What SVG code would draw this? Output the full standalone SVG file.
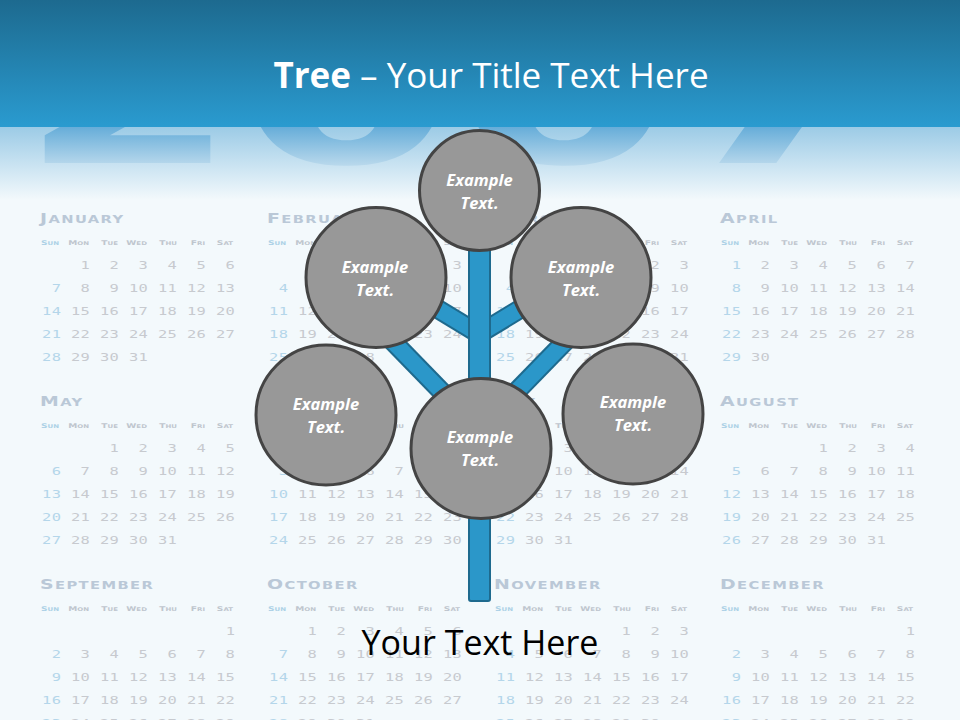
<svg xmlns="http://www.w3.org/2000/svg" xmlns:xlink="http://www.w3.org/1999/xlink" width="960" height="720" viewBox="0 0 960 720">
<style>
.t{font-family:"DejaVu Sans",sans-serif;font-weight:bold;font-size:10.5px;fill:#bac8d7;letter-spacing:1px}
.tb{font-size:13.5px}
.h{font-family:"DejaVu Sans",sans-serif;font-weight:bold;font-size:5px;fill:#bfc6ce;text-anchor:end}
.hb{font-size:6.5px}
.hs{fill:#acd1e6}
.n{font-family:"DejaVu Sans Mono",monospace;font-size:11px;fill:#c7cacf;letter-spacing:0.285px;white-space:pre}
.s{fill:#b4d6ea}
.ex{font-family:"Open Sans","Liberation Sans",sans-serif;font-weight:bold;font-style:italic;font-size:16.5px;fill:#ffffff;text-anchor:middle}
.node circle{fill:#989898;stroke:#444444;stroke-width:3}
.brO{stroke:#1e6a8e;stroke-width:20;fill:none}
.brI{stroke:#2b97c9;stroke-width:16;fill:none}
</style>
<defs>
<linearGradient id="band" x1="0" y1="0" x2="0" y2="127" gradientUnits="userSpaceOnUse">
<stop offset="0" stop-color="#1d6a8f"/><stop offset="1" stop-color="#2a9bd0"/>
</linearGradient>
<linearGradient id="fade" x1="0" y1="127" x2="0" y2="200" gradientUnits="userSpaceOnUse">
<stop offset="0" stop-color="#9ccbe6"/><stop offset="1" stop-color="#f3f9fc"/>
</linearGradient>
<linearGradient id="digits" x1="0" y1="127" x2="0" y2="165" gradientUnits="userSpaceOnUse">
<stop offset="0" stop-color="#66add9"/><stop offset="1" stop-color="#b8d8ec"/>
</linearGradient>
<clipPath id="fadeclip"><rect x="0" y="127" width="960" height="60"/></clipPath>
<g id="wk">
<text class="h hs" x="13.6" y="22.5"><tspan class="hb">S</tspan>UN</text>
<text class="h" x="35" y="22.5"><tspan class="hb">M</tspan>ON</text>
<text class="h" x="55.7" y="22.5"><tspan class="hb">T</tspan>UE</text>
<text class="h" x="76.4" y="22.5"><tspan class="hb">W</tspan>ED</text>
<text class="h" x="97.9" y="22.5"><tspan class="hb">T</tspan>HU</text>
<text class="h" x="117.9" y="22.5"><tspan class="hb">F</tspan>RI</text>
<text class="h" x="137.9" y="22.5"><tspan class="hb">S</tspan>AT</text>
</g>
</defs>

<rect x="0" y="0" width="960" height="720" fill="#f3f9fc"/>
<rect x="0" y="127" width="960" height="73" fill="url(#fade)"/>
<text x="20" y="163" clip-path="url(#fadeclip)" font-family="DejaVu Sans, sans-serif" font-weight="bold" font-size="200" textLength="870" lengthAdjust="spacingAndGlyphs" fill="url(#digits)">2007</text>
<rect x="0" y="0" width="960" height="127" fill="url(#band)"/>
<text x="491" y="88" text-anchor="middle" font-family="Open Sans, Liberation Sans, sans-serif" font-size="35" fill="#ffffff"><tspan font-weight="bold">Tree</tspan> – Your Title Text Here</text>

<g id="calendar">
<g transform="translate(40,223) scale(1.4,1)">
<text class="t" x="0" y="0"><tspan class="tb">J</tspan>ANUARY</text>
<use href="#wk"/>
<text class="n" x="15.2" y="45.7">  1  2  3  4  5  6</text>
<text class="n s" x="-5.5" y="68.8">  7</text><text class="n" x="15.2" y="68.8">  8  9 10 11 12 13</text>
<text class="n s" x="-5.5" y="91.9"> 14</text><text class="n" x="15.2" y="91.9"> 15 16 17 18 19 20</text>
<text class="n s" x="-5.5" y="115"> 21</text><text class="n" x="15.2" y="115"> 22 23 24 25 26 27</text>
<text class="n s" x="-5.5" y="138.1"> 28</text><text class="n" x="15.2" y="138.1"> 29 30 31</text>
</g>
<g transform="translate(267,223) scale(1.4,1)">
<text class="t" x="0" y="0"><tspan class="tb">F</tspan>EBRUARY</text>
<use href="#wk"/>
<text class="n" x="77.3" y="45.7">  1  2  3</text>
<text class="n s" x="-5.5" y="68.8">  4</text><text class="n" x="15.2" y="68.8">  5  6  7  8  9 10</text>
<text class="n s" x="-5.5" y="91.9"> 11</text><text class="n" x="15.2" y="91.9"> 12 13 14 15 16 17</text>
<text class="n s" x="-5.5" y="115"> 18</text><text class="n" x="15.2" y="115"> 19 20 21 22 23 24</text>
<text class="n s" x="-5.5" y="138.1"> 25</text><text class="n" x="15.2" y="138.1"> 26 27 28</text>
</g>
<g transform="translate(494,223) scale(1.4,1)">
<text class="t" x="0" y="0"><tspan class="tb">M</tspan>ARCH</text>
<use href="#wk"/>
<text class="n" x="77.3" y="45.7">  1  2  3</text>
<text class="n s" x="-5.5" y="68.8">  4</text><text class="n" x="15.2" y="68.8">  5  6  7  8  9 10</text>
<text class="n s" x="-5.5" y="91.9"> 11</text><text class="n" x="15.2" y="91.9"> 12 13 14 15 16 17</text>
<text class="n s" x="-5.5" y="115"> 18</text><text class="n" x="15.2" y="115"> 19 20 21 22 23 24</text>
<text class="n s" x="-5.5" y="138.1"> 25</text><text class="n" x="15.2" y="138.1"> 26 27 28 29 30 31</text>
</g>
<g transform="translate(720,223) scale(1.4,1)">
<text class="t" x="0" y="0"><tspan class="tb">A</tspan>PRIL</text>
<use href="#wk"/>
<text class="n s" x="-5.5" y="45.7">  1</text><text class="n" x="15.2" y="45.7">  2  3  4  5  6  7</text>
<text class="n s" x="-5.5" y="68.8">  8</text><text class="n" x="15.2" y="68.8">  9 10 11 12 13 14</text>
<text class="n s" x="-5.5" y="91.9"> 15</text><text class="n" x="15.2" y="91.9"> 16 17 18 19 20 21</text>
<text class="n s" x="-5.5" y="115"> 22</text><text class="n" x="15.2" y="115"> 23 24 25 26 27 28</text>
<text class="n s" x="-5.5" y="138.1"> 29</text><text class="n" x="15.2" y="138.1"> 30</text>
</g>
<g transform="translate(40,406) scale(1.4,1)">
<text class="t" x="0" y="0"><tspan class="tb">M</tspan>AY</text>
<use href="#wk"/>
<text class="n" x="35.9" y="45.7">  1  2  3  4  5</text>
<text class="n s" x="-5.5" y="68.8">  6</text><text class="n" x="15.2" y="68.8">  7  8  9 10 11 12</text>
<text class="n s" x="-5.5" y="91.9"> 13</text><text class="n" x="15.2" y="91.9"> 14 15 16 17 18 19</text>
<text class="n s" x="-5.5" y="115"> 20</text><text class="n" x="15.2" y="115"> 21 22 23 24 25 26</text>
<text class="n s" x="-5.5" y="138.1"> 27</text><text class="n" x="15.2" y="138.1"> 28 29 30 31</text>
</g>
<g transform="translate(267,406) scale(1.4,1)">
<text class="t" x="0" y="0"><tspan class="tb">J</tspan>UNE</text>
<use href="#wk"/>
<text class="n" x="98.1" y="45.7">  1  2</text>
<text class="n s" x="-5.5" y="68.8">  3</text><text class="n" x="15.2" y="68.8">  4  5  6  7  8  9</text>
<text class="n s" x="-5.5" y="91.9"> 10</text><text class="n" x="15.2" y="91.9"> 11 12 13 14 15 16</text>
<text class="n s" x="-5.5" y="115"> 17</text><text class="n" x="15.2" y="115"> 18 19 20 21 22 23</text>
<text class="n s" x="-5.5" y="138.1"> 24</text><text class="n" x="15.2" y="138.1"> 25 26 27 28 29 30</text>
</g>
<g transform="translate(494,406) scale(1.4,1)">
<text class="t" x="0" y="0"><tspan class="tb">J</tspan>ULY</text>
<use href="#wk"/>
<text class="n s" x="-5.5" y="45.7">  1</text><text class="n" x="15.2" y="45.7">  2  3  4  5  6  7</text>
<text class="n s" x="-5.5" y="68.8">  8</text><text class="n" x="15.2" y="68.8">  9 10 11 12 13 14</text>
<text class="n s" x="-5.5" y="91.9"> 15</text><text class="n" x="15.2" y="91.9"> 16 17 18 19 20 21</text>
<text class="n s" x="-5.5" y="115"> 22</text><text class="n" x="15.2" y="115"> 23 24 25 26 27 28</text>
<text class="n s" x="-5.5" y="138.1"> 29</text><text class="n" x="15.2" y="138.1"> 30 31</text>
</g>
<g transform="translate(720,406) scale(1.4,1)">
<text class="t" x="0" y="0"><tspan class="tb">A</tspan>UGUST</text>
<use href="#wk"/>
<text class="n" x="56.6" y="45.7">  1  2  3  4</text>
<text class="n s" x="-5.5" y="68.8">  5</text><text class="n" x="15.2" y="68.8">  6  7  8  9 10 11</text>
<text class="n s" x="-5.5" y="91.9"> 12</text><text class="n" x="15.2" y="91.9"> 13 14 15 16 17 18</text>
<text class="n s" x="-5.5" y="115"> 19</text><text class="n" x="15.2" y="115"> 20 21 22 23 24 25</text>
<text class="n s" x="-5.5" y="138.1"> 26</text><text class="n" x="15.2" y="138.1"> 27 28 29 30 31</text>
</g>
<g transform="translate(40,589) scale(1.4,1)">
<text class="t" x="0" y="0"><tspan class="tb">S</tspan>EPTEMBER</text>
<use href="#wk"/>
<text class="n" x="118.8" y="45.7">  1</text>
<text class="n s" x="-5.5" y="68.8">  2</text><text class="n" x="15.2" y="68.8">  3  4  5  6  7  8</text>
<text class="n s" x="-5.5" y="91.9">  9</text><text class="n" x="15.2" y="91.9"> 10 11 12 13 14 15</text>
<text class="n s" x="-5.5" y="115"> 16</text><text class="n" x="15.2" y="115"> 17 18 19 20 21 22</text>
<text class="n s" x="-5.5" y="138.1"> 23</text><text class="n" x="15.2" y="138.1"> 24 25 26 27 28 29</text>
</g>
<g transform="translate(267,589) scale(1.4,1)">
<text class="t" x="0" y="0"><tspan class="tb">O</tspan>CTOBER</text>
<use href="#wk"/>
<text class="n" x="15.2" y="45.7">  1  2  3  4  5  6</text>
<text class="n s" x="-5.5" y="68.8">  7</text><text class="n" x="15.2" y="68.8">  8  9 10 11 12 13</text>
<text class="n s" x="-5.5" y="91.9"> 14</text><text class="n" x="15.2" y="91.9"> 15 16 17 18 19 20</text>
<text class="n s" x="-5.5" y="115"> 21</text><text class="n" x="15.2" y="115"> 22 23 24 25 26 27</text>
<text class="n s" x="-5.5" y="138.1"> 28</text><text class="n" x="15.2" y="138.1"> 29 30 31</text>
</g>
<g transform="translate(494,589) scale(1.4,1)">
<text class="t" x="0" y="0"><tspan class="tb">N</tspan>OVEMBER</text>
<use href="#wk"/>
<text class="n" x="77.3" y="45.7">  1  2  3</text>
<text class="n s" x="-5.5" y="68.8">  4</text><text class="n" x="15.2" y="68.8">  5  6  7  8  9 10</text>
<text class="n s" x="-5.5" y="91.9"> 11</text><text class="n" x="15.2" y="91.9"> 12 13 14 15 16 17</text>
<text class="n s" x="-5.5" y="115"> 18</text><text class="n" x="15.2" y="115"> 19 20 21 22 23 24</text>
<text class="n s" x="-5.5" y="138.1"> 25</text><text class="n" x="15.2" y="138.1"> 26 27 28 29 30</text>
</g>
<g transform="translate(720,589) scale(1.4,1)">
<text class="t" x="0" y="0"><tspan class="tb">D</tspan>ECEMBER</text>
<use href="#wk"/>
<text class="n" x="118.8" y="45.7">  1</text>
<text class="n s" x="-5.5" y="68.8">  2</text><text class="n" x="15.2" y="68.8">  3  4  5  6  7  8</text>
<text class="n s" x="-5.5" y="91.9">  9</text><text class="n" x="15.2" y="91.9"> 10 11 12 13 14 15</text>
<text class="n s" x="-5.5" y="115"> 16</text><text class="n" x="15.2" y="115"> 17 18 19 20 21 22</text>
<text class="n s" x="-5.5" y="138.1"> 23</text><text class="n" x="15.2" y="138.1"> 24 25 26 27 28 29</text>
</g>
</g>

<g id="connectors">
<line class="brO" x1="479" y1="334" x2="395" y2="283"/>
<line class="brO" x1="479" y1="334" x2="563" y2="283"/>
<line class="brO" x1="479" y1="430" x2="370" y2="318"/>
<line class="brO" x1="479" y1="430" x2="588" y2="318"/>
<line class="brI" x1="479" y1="334" x2="395" y2="283"/>
<line class="brI" x1="479" y1="334" x2="563" y2="283"/>
<line class="brI" x1="479" y1="430" x2="370" y2="318"/>
<line class="brI" x1="479" y1="430" x2="588" y2="318"/>
<rect x="469" y="240" width="21" height="361" rx="2" fill="#2b97c9" stroke="#1e6a8e" stroke-width="2"/>
</g>

<g id="node-top" class="node">
<circle cx="479.5" cy="190.5" r="60"/>
<text class="ex" x="479.5" y="185.5">Example</text>
<text class="ex" x="479.5" y="208.5">Text.</text>
</g>
<g id="node-upper-left" class="node">
<circle cx="376" cy="277.5" r="70"/>
<text class="ex" x="375" y="273">Example</text>
<text class="ex" x="375" y="296">Text.</text>
</g>
<g id="node-upper-right" class="node">
<circle cx="581" cy="277.5" r="70"/>
<text class="ex" x="581" y="273">Example</text>
<text class="ex" x="581" y="296">Text.</text>
</g>
<g id="node-lower-left" class="node">
<circle cx="326" cy="415" r="70"/>
<text class="ex" x="326" y="410">Example</text>
<text class="ex" x="326" y="433">Text.</text>
</g>
<g id="node-lower-right" class="node">
<circle cx="633" cy="414" r="70"/>
<text class="ex" x="633" y="408">Example</text>
<text class="ex" x="633" y="431">Text.</text>
</g>
<g id="node-center" class="node">
<circle cx="481" cy="448.5" r="70"/>
<text class="ex" x="480" y="443">Example</text>
<text class="ex" x="480" y="466">Text.</text>
</g>

<text x="480" y="655" text-anchor="middle" font-family="Open Sans, Liberation Sans, sans-serif" font-size="34" fill="#000000">Your Text Here</text>
</svg>
